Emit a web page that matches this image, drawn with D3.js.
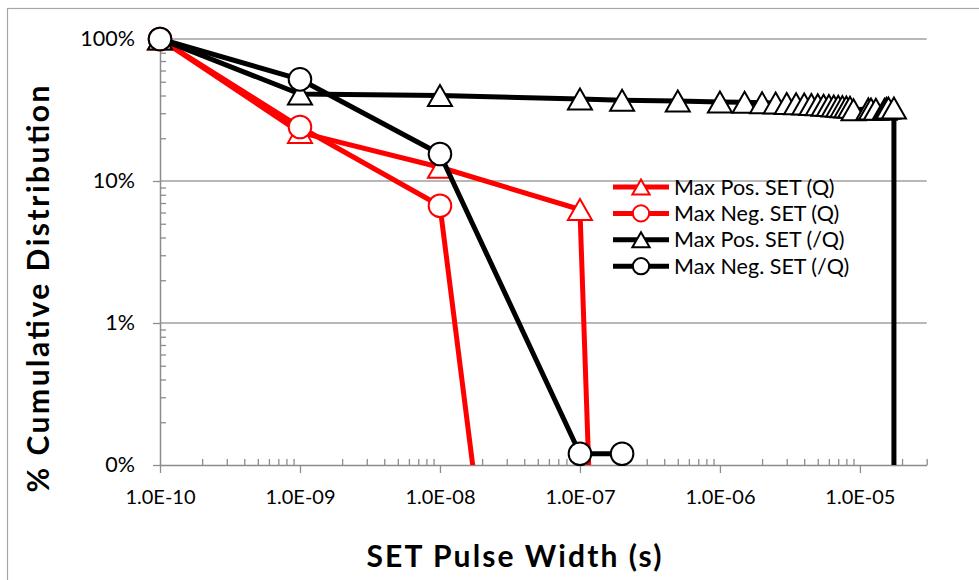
<!DOCTYPE html>
<html><head><meta charset="utf-8">
<script src="https://cdn.jsdelivr.net/npm/d3@7"></script>
<style>
html,body{margin:0;padding:0;background:#fff}
svg{display:block}
text{font-family:Lato,"Open Sans",sans-serif;fill:#000}
</style>
</head><body><svg id="c" width="979" height="580"></svg>
<script>
// ---- data ----
const xTickValues = [1e-10, 1e-9, 1e-8, 1e-7, 1e-6, 1e-5];
const xTickLabels = ["1.0E-10", "1.0E-09", "1.0E-08", "1.0E-07", "1.0E-06", "1.0E-05"];
const yTickValues = [1, 0.1, 0.01, 0.001];
const yTickLabels = ["100%", "10%", "1%", "0%"];
const seriesNames = ["Max Pos. SET (Q)", "Max Neg. SET (Q)", "Max Pos. SET (/Q)", "Max Neg. SET (/Q)"];
const seriesColors = ["#FF0000", "#FF0000", "#000000", "#000000"];
const seriesMarkers = ["triangle", "circle", "triangle", "circle"];

const posQ_x = [1e-10, 1e-9, 1e-8, 1e-7, 1.25e-7];
const posQ_y = [1.0, 0.22, 0.125, 0.063, 0.0001];

const negQ_x = [1e-10, 1e-9, 1e-8, 2.3e-8];
const negQ_y = [1.0, 0.24, 0.067, 0.0001];

const posQb_x = [1e-10, 1e-9, 1e-8, 1e-7, 2e-7, 5e-7, 1e-6, 1.5e-6, 2e-6, 2.5e-6, 3e-6, 3.5e-6, 4e-6,
  4.5e-6, 5e-6, 5.5e-6, 6e-6, 6.5e-6, 7e-6, 7.5e-6, 8e-6, 8.5e-6, 9e-6, 1.15e-5, 1.2e-5, 1.3e-5,
  1.5e-5, 1.55e-5, 1.6e-5, 1.75e-5, 1.75e-5];
const posQb_y = [1.0, 0.41, 0.40, 0.378, 0.37, 0.366, 0.36, 0.358, 0.356, 0.354, 0.352, 0.35, 0.348,
  0.346, 0.344, 0.342, 0.34, 0.338, 0.336, 0.334, 0.332, 0.33, 0.318, 0.322, 0.321, 0.32,
  0.32, 0.325, 0.326, 0.327, 0.0001];

const negQb_x = [1e-10, 1e-9, 1e-8, 1e-7, 2e-7];
const negQb_y = [1.0, 0.52, 0.155, 0.0012, 0.0012];

const seriesX = [posQ_x, negQ_x, posQb_x, negQb_x];
const seriesY = [posQ_y, negQ_y, posQb_y, negQb_y];

// ---- layout ----
const L = 160, R = 926.7, T = 39, B = 465;
const svg = d3.select("#c");
const x = d3.scaleLog().domain([1e-10, 3e-5]).range([L, R]);
const y = d3.scaleLog().domain([0.001, 1]).range([B, T]);
const grey = "#8C8C8C";

// outer chart border
svg.append("rect").attr("x", 7.5).attr("y", 8.5).attr("width", 1200).attr("height", 1200)
  .attr("fill", "none").attr("stroke", "#A6A6A6").attr("stroke-width", 1.2);

// gridlines
svg.append("g").selectAll("line").data(yTickValues.slice(0, 3)).join("line")
  .attr("x1", L).attr("x2", R).attr("y1", d => y(d)).attr("y2", d => y(d))
  .attr("stroke", "#A0A0A0").attr("stroke-width", 1.5);

// minor tick values
const minorX = [], minorY = [];
for (let e = -10; e <= -5; e++) for (let m = 2; m <= 9; m++) { const v = m * Math.pow(10, e); if (v <= 3.01e-5) minorX.push(v); }
for (let e = -3; e <= -1; e++) for (let m = 2; m <= 9; m++) minorY.push(m * Math.pow(10, e));

function styleAxis(g, fs) {
  g.select(".domain").attr("stroke", grey).attr("stroke-width", 1.5);
  g.selectAll(".tick line").attr("stroke", grey).attr("stroke-width", 1.3);
  g.selectAll("text").attr("font-size", fs).attr("font-family", "Lato, sans-serif").attr("fill", "#000");
}

// x axis
const gxMinor = svg.append("g").attr("transform", `translate(0,${B})`)
  .call(d3.axisBottom(x).tickValues(minorX).tickSize(-6).tickFormat(""));
gxMinor.select(".domain").remove();
gxMinor.selectAll(".tick line").attr("stroke", grey).attr("stroke-width", 1.3);
const gx = svg.append("g").attr("transform", `translate(0,${B})`)
  .call(d3.axisBottom(x).tickValues(xTickValues).tickSizeInner(8).tickSizeOuter(0).tickPadding(17)
    .tickFormat((d, i) => xTickLabels[i]));
styleAxis(gx, 20);

// y axis
const gyMinor = svg.append("g").attr("transform", `translate(${L},0)`)
  .call(d3.axisLeft(y).tickValues(minorY).tickSize(-6).tickFormat(""));
gyMinor.select(".domain").remove();
gyMinor.selectAll(".tick line").attr("stroke", grey).attr("stroke-width", 1.3);
const gy = svg.append("g").attr("transform", `translate(${L},0)`)
  .call(d3.axisLeft(y).tickValues(yTickValues).tickSizeInner(7).tickSizeOuter(0).tickPadding(18)
    .tickFormat((d, i) => yTickLabels[i]));
styleAxis(gy, 21.5);

// clip for lines (below the x axis)
svg.append("defs").append("clipPath").attr("id", "plotclip")
  .append("rect").attr("x", 0).attr("y", 0).attr("width", 979).attr("height", B);

function markerPath(type, s) {
  if (type === "triangle") {
    const w = 24 * s, h = 21 * s;
    return `M0,${-h / 2}L${w / 2},${h / 2}L${-w / 2},${h / 2}Z`;
  }
  const r = 11.3 * s;
  return `M${r},0A${r},${r} 0 1,1 ${-r},0A${r},${r} 0 1,1 ${r},0Z`;
}

const line = d3.line().x(d => x(d[0])).y(d => y(d[1]));
seriesNames.forEach((name, i) => {
  const pts = seriesX[i].map((v, j) => [v, seriesY[i][j]]);
  const g = svg.append("g");
  g.append("path").attr("d", line(pts)).attr("fill", "none").attr("stroke", seriesColors[i])
    .attr("stroke-width", 5).attr("stroke-linejoin", "round").attr("clip-path", "url(#plotclip)");
  g.selectAll("path.m").data(pts.filter(d => d[1] >= 0.001)).join("path").attr("class", "m")
    .attr("d", markerPath(seriesMarkers[i], 1))
    .attr("transform", d => `translate(${x(d[0])},${y(d[1])})`)
    .attr("fill", "#fff").attr("stroke", seriesColors[i]).attr("stroke-width", 2);
});

// legend
const legY0 = 187, legDy = 26.4, legX = 613;
seriesNames.forEach((name, i) => {
  const g = svg.append("g").attr("transform", `translate(${legX},${legY0 + i * legDy})`);
  g.append("line").attr("x1", 0).attr("x2", 56).attr("stroke", seriesColors[i]).attr("stroke-width", 5);
  g.append("path").attr("d", markerPath(seriesMarkers[i], 0.72)).attr("transform", "translate(28,0)")
    .attr("fill", "#fff").attr("stroke", seriesColors[i]).attr("stroke-width", 2);
  g.append("text").attr("x", 61).attr("y", 0).attr("dy", "0.35em").attr("font-size", 21.5).text(name);
});

// axis titles
svg.append("text").attr("x", 514).attr("y", 556).attr("dy", "0.35em").attr("text-anchor", "middle")
  .attr("font-weight", "bold").attr("font-size", 30)
  .attr("textLength", 295).attr("lengthAdjust", "spacing").text("SET Pulse Width (s)");
svg.append("text").attr("transform", "translate(38,289) rotate(-90)").attr("dy", "0.35em")
  .attr("text-anchor", "middle").attr("font-weight", "bold").attr("font-size", 30)
  .attr("textLength", 407).attr("lengthAdjust", "spacing").text("% Cumulative Distribution");
</script></body></html>
